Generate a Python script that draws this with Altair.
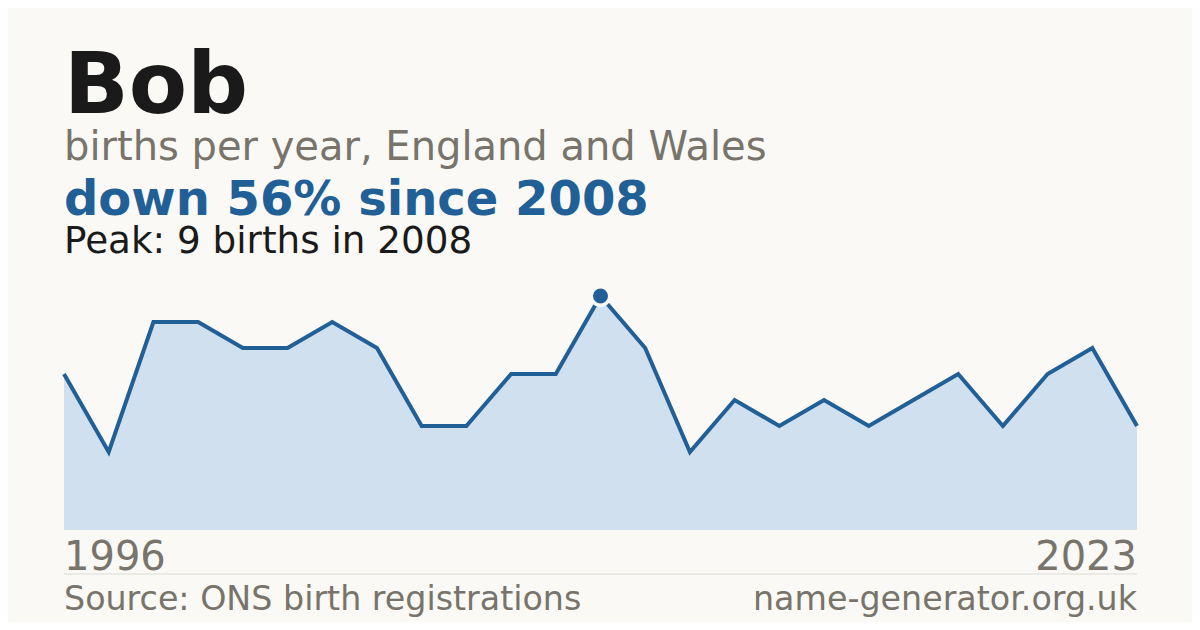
import altair as alt
import pandas as pd

# Data (births per year; some years suppressed)
years = [1996, 1997, 1998, 1999, 2000, 2001, 2002, 2003, 2004, 2005, 2006, 2007,
         2008, 2009, 2011, 2012, 2013, 2015, 2016, 2017, 2018, 2020, 2021, 2022, 2023]
births = [6, 3, 8, 8, 7, 7, 8, 7, 4, 4, 6, 6,
          9, 7, 3, 5, 4, 5, 4, 5, 6, 4, 6, 7, 4]

title_text = "Bob"
subtitle_text = "births per year, England and Wales"
change_text = "down 56% since 2008"
peak_text = "Peak: 9 births in 2008"
source_text = "Source: ONS birth registrations"
site_text = "name-generator.org.uk"

BG = "#faf9f5"
BLUE = "#215f97"
FILL = "#d0e0ef"
GRAY = "#78736b"
DARK = "#1a1a1a"
FONT = "DejaVu Sans"

df = pd.DataFrame({"i": list(range(len(years))), "year": years, "births": births})
peak_val = max(births)
peak_df = df[df["births"] == peak_val].head(1)

W, H = 1073, 234

xs = alt.Scale(domain=[0, len(years) - 1], nice=False, zero=False)
ys = alt.Scale(domain=[0, 9], nice=False)
X = alt.X("i:Q", scale=xs, axis=None)
Y = alt.Y("births:Q", scale=ys, axis=None)

base = alt.Chart(df)
area = base.mark_area(color=FILL, opacity=1).encode(x=X, y=Y)
line = base.mark_line(color=BLUE, strokeWidth=4, strokeJoin="miter", strokeCap="butt").encode(x=X, y=Y)
point = alt.Chart(peak_df).mark_point(
    filled=True, shape="circle", size=342, fill=BLUE, stroke=BG, strokeWidth=3.5, opacity=1
).encode(x=X, y=Y)


def txt(s, y, size, color, bold=False, align="left", x=0):
    return alt.Chart(pd.DataFrame({"t": [s]})).mark_text(
        align=align, baseline="alphabetic", font=FONT, fontSize=size,
        fontWeight="bold" if bold else "normal", color=color
    ).encode(text="t:N", x=alt.value(x), y=alt.value(y))


texts = [
    txt(title_text, -183, 85, DARK, bold=True),
    txt(subtitle_text, -136, 40, GRAY),
    txt(change_text, -81, 48, BLUE, bold=True),
    txt(peak_text, -43, 37.3, DARK),
    txt(str(years[0]), 274, 40, GRAY),
    txt(str(years[-1]), 274, 40, GRAY, align="right", x=W),
    txt(source_text, 314, 33.3, GRAY),
    txt(site_text, 314, 33.3, GRAY, align="right", x=W),
]

rule = alt.Chart(pd.DataFrame({"a": [0]})).mark_rule(color="#dedbd4", strokeWidth=1).encode(
    x=alt.value(0), x2=alt.value(W), y=alt.value(278)
)

chart = alt.layer(area, line, point, rule, *texts).properties(
    width=W, height=H,
    background=BG,
    padding={"left": 56, "top": 288, "right": 55, "bottom": 92},
    autosize=alt.AutoSizeParams(type="none"),
).configure_view(stroke=None)

chart.save("out.html", embed_options={"renderer": "svg", "actions": False})
